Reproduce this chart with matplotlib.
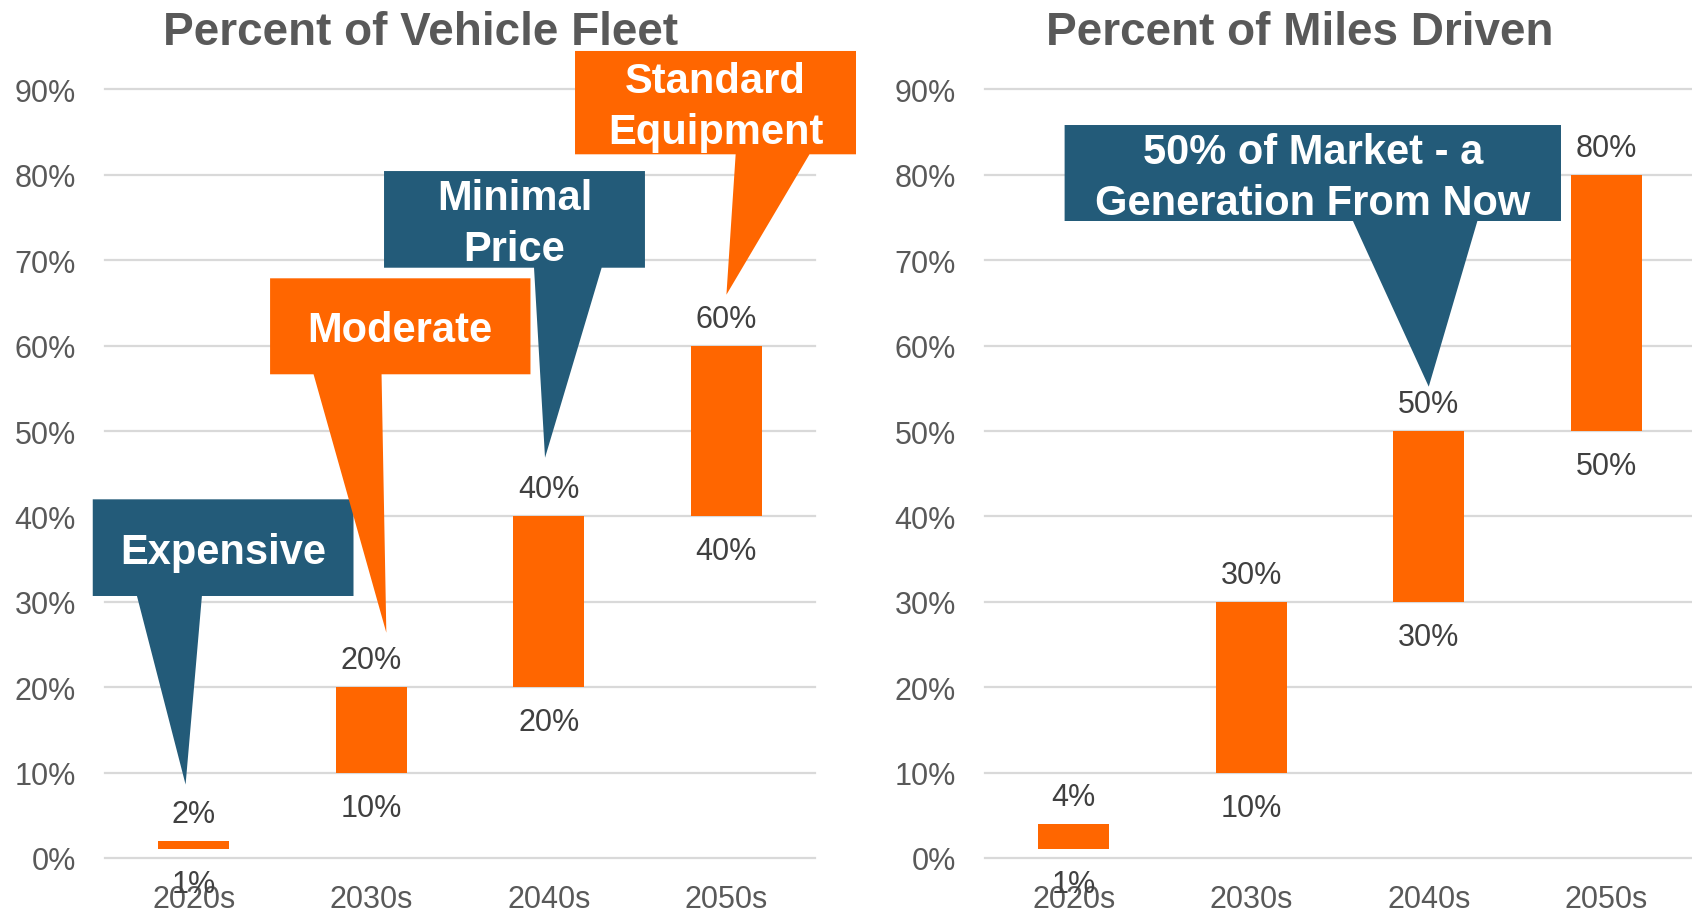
import matplotlib
matplotlib.use("Agg")
import matplotlib.pyplot as plt
from matplotlib.patches import Polygon
from matplotlib.ticker import PercentFormatter

# data: floating bars (low -> high) per decade
decades = ["2020s", "2030s", "2040s", "2050s"]
fleet_low = [0.01, 0.10, 0.20, 0.40]
fleet_high = [0.02, 0.20, 0.40, 0.60]
miles_low = [0.01, 0.10, 0.30, 0.50]
miles_high = [0.04, 0.30, 0.50, 0.80]
yticks = [0.0, 0.1, 0.2, 0.3, 0.4, 0.5, 0.6, 0.7, 0.8, 0.9]

ORANGE = "#FF6600"
BLUE = "#235B79"
TICK_GRAY = "#595959"
LABEL_GRAY = "#404040"
GRID = "#D9D9D9"

plt.rcParams['font.family'] = ['Liberation Sans', 'DejaVu Sans']

fig = plt.figure(figsize=(16.92, 9.12), dpi=100)
ax_l = fig.add_axes([105 / 1692, 53 / 912, 710 / 1692, 0.95 * 854 / 912])
ax_r = fig.add_axes([985 / 1692, 53 / 912, 710 / 1692, 0.95 * 854 / 912])

PX = 1 / 854.0  # one pixel in data units (y)


def setup(ax, title, low, high):
    x = range(len(decades))
    ax.bar(x, [h - l for l, h in zip(low, high)], bottom=low, width=0.4,
           color=ORANGE, zorder=2)
    ax.set_xlim(-0.5, 3.5)
    ax.set_ylim(0, 0.95)
    ax.set_yticks(yticks)
    ax.yaxis.set_major_formatter(PercentFormatter(1.0, decimals=0))
    ax.set_xticks(list(x))
    ax.set_xticklabels(decades)
    ax.tick_params(axis="both", length=0, labelsize=22, labelcolor=TICK_GRAY)
    ax.tick_params(axis="y", pad=21)
    ax.tick_params(axis="x", pad=19)
    for s in ax.spines.values():
        s.set_visible(False)
    ax.grid(axis="y", color=GRID, linewidth=1.6, clip_on=False)
    ax.set_axisbelow(True)
    for i, (l, h) in enumerate(zip(low, high)):
        ax.annotate("{:.0f}%".format(h * 100), (i, h), xytext=(0, 19),
                    textcoords="offset pixels", ha="center", va="baseline",
                    fontsize=22, color=LABEL_GRAY, zorder=4)
        ax.annotate("{:.0f}%".format(l * 100), (i, l), xytext=(0, -43),
                    textcoords="offset pixels", ha="center", va="baseline",
                    fontsize=22, color=LABEL_GRAY, zorder=4, annotation_clip=False)
    ax.text(1.275, 0.953, title, ha="center", va="baseline", fontsize=33,
            fontweight="bold", color=TICK_GRAY, clip_on=False)


def callout(ax, box, base, tip, lines, color):
    x0, x1, y0, y1 = box
    b0, b1 = base
    pts = [(x0, y1), (x1, y1), (x1, y0), (b1, y0), tip, (b0, y0), (x0, y0)]
    ax.add_patch(Polygon(pts, closed=True, facecolor=color, edgecolor="none",
                         zorder=5, clip_on=False))
    cap, ls = 30 * PX, 51 * PX
    height = cap + ls * (len(lines) - 1)
    first = (y0 + y1) / 2 + height / 2 - cap
    for k, t in enumerate(lines):
        ax.text((x0 + x1) / 2, first - k * ls, t, ha="center", va="baseline",
                fontsize=30, fontweight="bold", color="white", zorder=6,
                clip_on=False)


setup(ax_l, "Percent of Vehicle Fleet", fleet_low, fleet_high)
setup(ax_r, "Percent of Miles Driven", miles_low, miles_high)

callout(ax_l, (-0.569, 0.900, 0.3068, 0.420), (-0.320, 0.046), (-0.046, 0.086),
        ["Expensive"], BLUE)
callout(ax_l, (0.430, 1.897, 0.5664, 0.6788), (0.675, 1.058), (1.085, 0.2638),
        ["Moderate"], ORANGE)
callout(ax_l, (1.072, 2.542, 0.6912, 0.8044), (1.917, 2.298), (1.979, 0.4687),
        ["Minimal", "Price"], BLUE)
callout(ax_l, (2.148, 3.731, 0.824, 0.945), (3.053, 3.469), (3.001, 0.6596),
        ["Standard", "Equipment"], ORANGE)
callout(ax_r, (-0.0515, 2.745, 0.7459, 0.8583), (1.573, 2.274), (2.0, 0.5519),
        ["50% of Market - a", "Generation From Now"], BLUE)

fig.savefig("out.png", dpi=100)
